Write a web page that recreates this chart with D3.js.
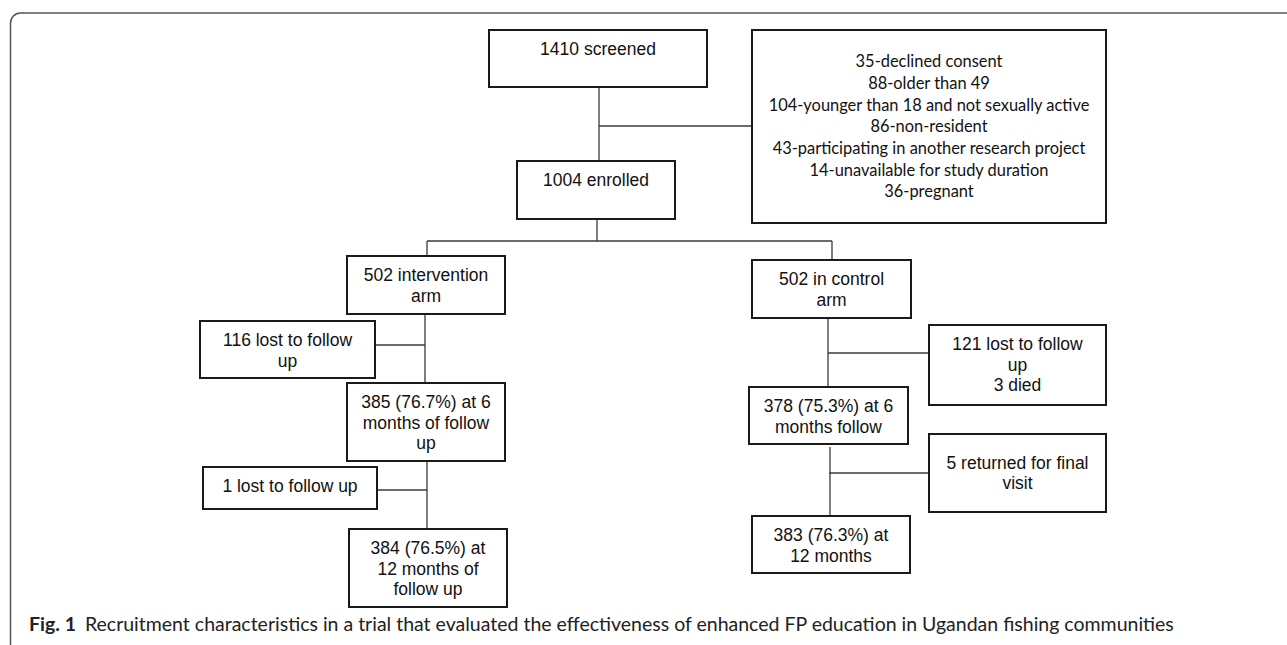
<html>
<head>
	<title>Recruitment flow</title>
	<style>
		body { margin: 0; background: #fff; }
		.box { fill: #fff; stroke: #1a1a1a; stroke-width: 2; }
		.link { stroke: #3a3a3a; stroke-width: 1.3; fill: none; }
		.frame { stroke: #555; stroke-width: 1.5; fill: none; }
		.lbl { font-family: "Liberation Sans", Arial, sans-serif; font-size: 17.5px; fill: #111; }
		.excl { font-family: Lato, "Noto Sans", sans-serif; fill: #111; }
		.cap { font-family: Lato, "Noto Sans", sans-serif; fill: #222; }
	</style>
	<script type="text/javascript" src="https://d3js.org/d3.v7.min.js"></script>
</head>
<body>
<svg width="1287" height="645"></svg>
<script>

// counts
var screened = 1410,
	enrolled = 1004,
	armSize = [502, 502]

var exclusionCounts = [35, 88, 104, 86, 43, 14, 36]
var exclusionReasons = ["declined consent", "older than 49", "younger than 18 and not sexually active",
	"non-resident", "participating in another research project", "unavailable for study duration", "pregnant"]

// intervention arm, then control arm
var lostSixMonths = ["116 lost to follow|up", "121 lost to follow|up|3 died"]
var sixMonths = ["385 (76.7%) at 6|months of follow|up", "378 (75.3%) at 6|months follow"]
var changeTwelve = ["1 lost to follow up", "5 returned for final|visit"]
var twelveMonths = ["384 (76.5%) at|12 months of|follow up", "383 (76.3%) at|12 months"]

var caption = ["Fig. 1", "Recruitment characteristics in a trial that evaluated the effectiveness of enhanced FP education in Ugandan fishing communities"]

// node texts
var nodes = [
	{ id: "screened", text: screened + " screened" },
	{ id: "excluded", text: exclusionCounts.map(function(c, i) { return c + "-" + exclusionReasons[i] }).join("|") },
	{ id: "enrolled", text: enrolled + " enrolled" },
	{ id: "armI", text: armSize[0] + " intervention|arm" },
	{ id: "armC", text: armSize[1] + " in control|arm" },
	{ id: "lostI", text: lostSixMonths[0] },
	{ id: "lostC", text: lostSixMonths[1] },
	{ id: "sixI", text: sixMonths[0] },
	{ id: "sixC", text: sixMonths[1] },
	{ id: "chgI", text: changeTwelve[0] },
	{ id: "chgC", text: changeTwelve[1] },
	{ id: "twelveI", text: twelveMonths[0] },
	{ id: "twelveC", text: twelveMonths[1] }
]

// box layout (x, y, w, h) and text placement
var layout = {
	screened: [489, 30, 218, 57, "top"],
	excluded: [752, 30, 354, 193, "mid"],
	enrolled: [517, 161, 158, 58, "top"],
	armI: [347, 256, 158, 58, "top"],
	armC: [752, 260, 159, 58, "top"],
	lostI: [200, 321, 175, 57, "top"],
	lostC: [929, 325, 177, 80, "top"],
	sixI: [347, 383, 158, 78, "top"],
	sixC: [749, 387, 159, 57, "top"],
	chgI: [203, 467, 174, 42, "top"],
	chgC: [929, 434, 177, 78, "mid"],
	twelveI: [349, 529, 158, 78, "top"],
	twelveC: [752, 516, 158, 57, "top"]
}

// connectors: [x1, y1, x2, y2]
var links = [
	[599, 87, 599, 161], [599, 126, 752, 126],
	[597, 219, 597, 241], [427, 241, 832, 241],
	[427, 241, 427, 256], [832, 241, 832, 260],
	[425, 314, 425, 383], [375, 345, 425, 345],
	[427, 461, 427, 529], [377, 490, 427, 490],
	[828, 318, 828, 387], [828, 353, 929, 353],
	[830, 447, 830, 516], [829, 473, 929, 473]
]

var svg = d3.select("svg")

svg.append("path")
	.attr("class", "frame")
	.attr("d", "M10.5,645 V23 A10,10 0 0 1 20.5,13 H1287")

svg.selectAll(".link")
	.data(links)
	.enter().append("line")
	.attr("class", "link")
	.attr("x1", function(d) { return d[0] })
	.attr("y1", function(d) { return d[1] })
	.attr("x2", function(d) { return d[2] })
	.attr("y2", function(d) { return d[3] })

var g = svg.selectAll(".node")
	.data(nodes)
	.enter().append("g")
	.attr("class", "node")

g.append("rect")
	.attr("class", "box")
	.attr("x", function(d) { return layout[d.id][0] })
	.attr("y", function(d) { return layout[d.id][1] })
	.attr("width", function(d) { return layout[d.id][2] })
	.attr("height", function(d) { return layout[d.id][3] })

g.each(function(d) {
	var L = layout[d.id],
		lines = d.text.split("|"),
		isExcl = d.id == "excluded",
		step = isExcl ? 21.7 : 20.5,
		cx = L[0] + L[2] / 2,
		first
	if (L[4] == "mid") {
		first = L[1] + L[3] / 2 - (lines.length - 1) * step / 2
	} else {
		first = L[1] + 19
	}
	var t = d3.select(this).append("text")
		.attr("class", isExcl ? "excl" : "lbl")
		.attr("text-anchor", "middle")
	if (isExcl) t.attr("font-size", 15)
	t.selectAll("tspan")
		.data(lines)
		.enter().append("tspan")
		.attr("x", cx)
		.attr("y", function(l, i) { return first + i * step })
		.attr("dy", "0.35em")
		.text(function(l) { return l })

	if (isExcl) {
		// fit the widest line to the width seen in the figure
		var widest = d3.max(t.selectAll("tspan").nodes(), function(n) { return n.getComputedTextLength() })
		t.attr("font-size", 15 * 321 / widest)
	}
})

// caption
var cap = svg.append("text")
	.attr("class", "cap")
	.attr("x", 29)
	.attr("y", 631)
	.attr("font-size", 18)
cap.append("tspan").attr("font-weight", "bold").text(caption[0])
cap.append("tspan").attr("dx", 9).text(caption[1])
var cw = cap.node().getBBox().width
cap.attr("font-size", 18 * 1146 / cw)

</script>
</body>
</html>
